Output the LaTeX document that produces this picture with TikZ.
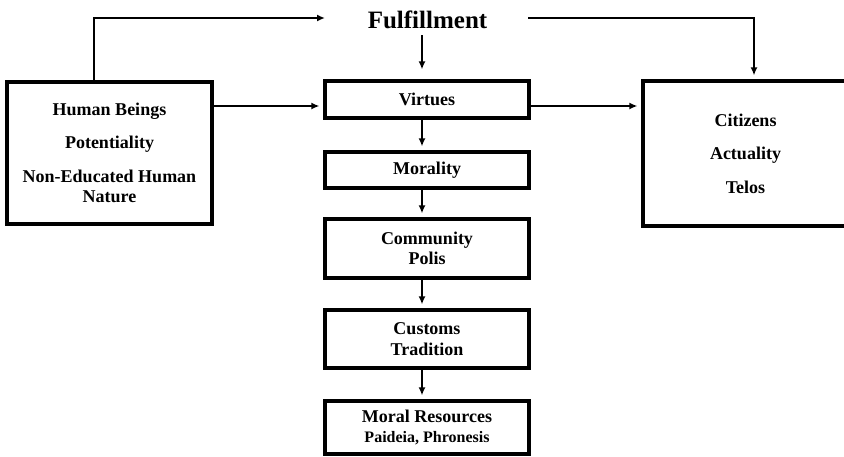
\documentclass[tikz,border=0pt]{standalone}
\usepackage{fontspec}
\setmainfont{Liberation Serif}
\usetikzlibrary{arrows.meta}
\tikzset{
  box/.style={draw=black, line width=3.2pt, fill=white, align=center, inner sep=2pt,
    font=\bfseries\fontsize{18}{20.5}\selectfont},
  arr/.style={line width=2.3pt, -{Latex[length=8pt,width=7pt]}, shorten >=4pt},
}
\begin{document}
\begin{tikzpicture}[x=1pt,y=-1pt]
\useasboundingbox[fill=white] (0,0) rectangle (844,456);
% nodes
\node[font=\bfseries\fontsize{25}{28}\selectfont, inner sep=0pt] (ful) at (427.5,20) {Fulfillment};
\node[box, minimum width=205pt, minimum height=142pt] (lb) at (109.5,153)
  {Human Beings\\[13pt] Potentiality\\[13pt] Non-Educated Human\\ Nature};
\node[box, minimum width=205pt, minimum height=145pt] (rb) at (745.5,153.5)
  {Citizens\\[13pt] Actuality\\[13pt] Telos};
\node[box, minimum width=204pt, minimum height=37pt] (vir) at (427,99.5) {Virtues};
\node[box, minimum width=204pt, minimum height=36pt] (mor) at (427,170) {Morality};
\node[box, minimum width=204pt, minimum height=59pt] (com) at (427,248.5) {Community\\ Polis};
\node[box, minimum width=204pt, minimum height=58pt] (cus) at (427,339) {Customs\\ Tradition};
\node[box, minimum width=204pt, minimum height=53pt] (mrs) at (427,427.5)
  {Moral Resources\\ {\fontsize{16}{18}\selectfont Paideia, Phronesis}};
% free ends
\coordinate (fl) at (329,18);
\coordinate (fr) at (528,18);
\coordinate (ftop) at (422,35);
% connectors
\draw[arr] ([xshift=-15.5pt]lb.north) |- (fl);
\draw[arr] (fr) -| ([xshift=8.5pt]rb.north);
\draw[arr, shorten >=10pt] (ftop) -- (ftop |- vir.north);
\draw[arr] (lb.east |- 0,106) -- (vir.west |- 0,106);
\draw[arr] (vir.east |- 0,106) -- (rb.west |- 0,106);
\draw[arr] ([xshift=-5pt]vir.south) -- ([xshift=-5pt]mor.north);
\draw[arr] ([xshift=-5pt]mor.south) -- ([xshift=-5pt]com.north);
\draw[arr] ([xshift=-5pt]com.south) -- ([xshift=-5pt]cus.north);
\draw[arr] ([xshift=-5pt]cus.south) -- ([xshift=-5pt]mrs.north);
\end{tikzpicture}
\end{document}
